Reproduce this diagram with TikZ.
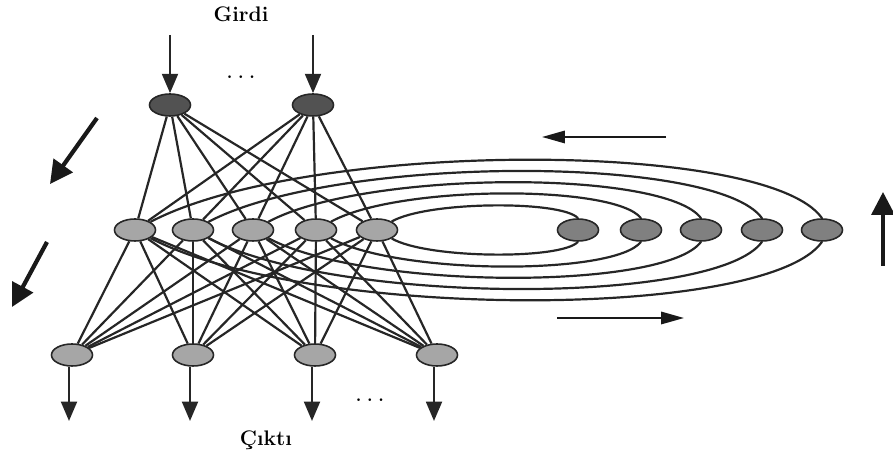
\documentclass[tikz,border=0pt]{standalone}
\usetikzlibrary{arrows.meta,shapes.geometric,calc}

\tikzset{
  unit/.style={ellipse,draw=black!85,line width=0.9pt,minimum width=0.82cm,minimum height=0.44cm,inner sep=0pt},
  inunit/.style={unit,fill=black!68},
  hidunit/.style={unit,fill=black!35},
  ctxunit/.style={unit,fill=black!50},
  outunit/.style={unit,fill=black!35},
  wire/.style={draw=black!85,line width=1.25pt},
  io/.style={draw=black!85,line width=1.4pt,-{Triangle[width=9pt,length=11pt]}},
  flow/.style={draw=black!90,line width=2.4pt,-{Triangle[width=13pt,length=13pt]}},
  sweep/.style={draw=black!90,line width=1.2pt,-{Triangle[width=7pt,length=13pt]}},
  lbl/.style={font=\fontsize{12}{14}\selectfont\bfseries}
}

\begin{document}
\begin{tikzpicture}[x=0.2mm,y=-0.2mm]

\useasboundingbox (0,0) rectangle (893,453);

\node[lbl](girdi) at (241,14) {Girdi};
\node[lbl](cikti) at (266,440) {Çıktı};
\node(indots) at (241,78) {\Large$\cdots$};
\node(outdots) at (370,401) {\Large$\cdots$};

\node[inunit](in1) at (170,105) {};
\node[inunit](in2) at (313,105) {};

\node[hidunit](h1) at (135,230) {};
\node[hidunit](h2) at (193,230) {};
\node[hidunit](h3) at (253,230) {};
\node[hidunit](h4) at (316,230) {};
\node[hidunit](h5) at (377,230) {};

\node[ctxunit](c1) at (578,230) {};
\node[ctxunit](c2) at (641,230) {};
\node[ctxunit](c3) at (701,230) {};
\node[ctxunit](c4) at (762,230) {};
\node[ctxunit](c5) at (822,230) {};

\node[outunit](out1) at (72,355) {};
\node[outunit](out2) at (193,355) {};
\node[outunit](out3) at (315,355) {};
\node[outunit](out4) at (437,355) {};

% inputs and outputs
\coordinate (src1) at (170,35);
\coordinate (src2) at (313,35);
\draw[io] (src1) -- (in1);
\draw[io] (src2) -- (in2);

\foreach \i in {1,...,4}{
  \coordinate (dst\i) at ($(out\i)+(-3,66)$);
  \draw[io] ($(out\i.south)+(-3,0)$) -- (dst\i);
}

% full connections
\foreach \i in {1,2}
  \foreach \j in {1,...,5}
    \draw[wire] (in\i) -- (h\j);

\foreach \j in {1,...,5}
  \foreach \k in {1,...,4}
    \draw[wire] (h\j) -- (out\k);

% context loops
\foreach \h/\c/\w/\H in {5/1/201/29,4/2/325/45,3/3/448/60,2/4/569/75,1/5/687/90}{
  \draw[wire] (c\c.north) .. controls +({-0.08*\w},{11-\H}) and ($(h\h)+({0.25*\w},-\H)$) .. (h\h);
  \draw[wire] (c\c.south) .. controls +({-0.08*\w},{\H-11}) and ($(h\h)+({0.25*\w},\H)$) .. (h\h);
}

% direction marks
\coordinate (a1s) at (97,118);  \coordinate (a1e) at (50,184);
\coordinate (a2s) at (47,242);  \coordinate (a2e) at (12,307);
\draw[flow] (a1s) -- (a1e);
\draw[flow] (a2s) -- (a2e);

\coordinate (a3s) at (666,137); \coordinate (a3e) at (542,137);
\coordinate (a4s) at (557,318); \coordinate (a4e) at (684,318);
\draw[sweep] (a3s) -- (a3e);
\draw[sweep] (a4s) -- (a4e);

\coordinate (a5s) at (883,266); \coordinate (a5e) at (883,192);
\draw[flow,line width=2pt] (a5s) -- (a5e);

\end{tikzpicture}
\end{document}
